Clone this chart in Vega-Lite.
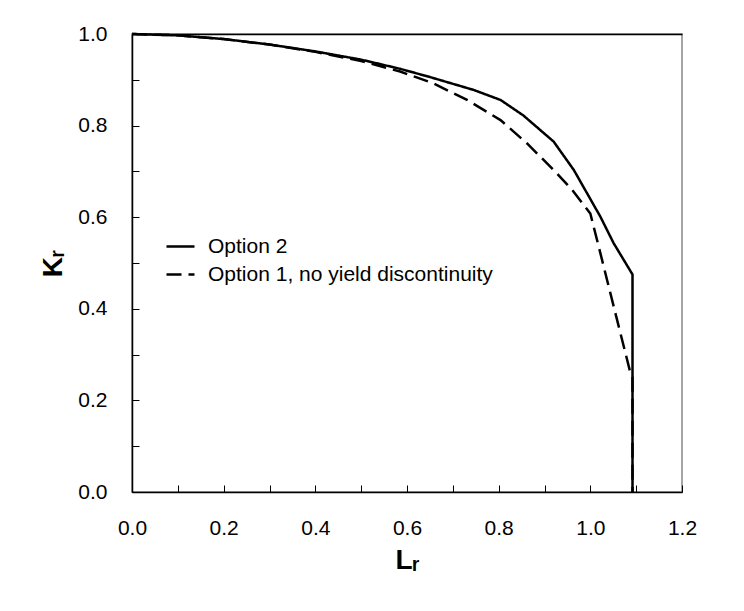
{
  "$schema": "https://vega.github.io/schema/vega-lite/v6.json",
  "width": 550,
  "height": 458,
  "autosize": {"type": "none"},
  "padding": {"left": 132, "top": 34, "right": 62, "bottom": 119},
  "background": "white",
  "config": {
    "view": {"stroke": "#888888", "strokeWidth": 1.5},
    "font": "Liberation Sans",
    "axis": {
      "grid": false,
      "domainColor": "black",
      "domainWidth": 1.5,
      "tickColor": "black",
      "tickWidth": 1,
      "labelFont": "Liberation Sans",
      "labelFontSize": 21,
      "labelColor": "black",
      "titleFont": "Liberation Sans",
      "titleFontSize": 28,
      "titleFontWeight": "bold",
      "titleColor": "black"
    }
  },
  "data": {
    "values": [
      {"series": "Option 2", "i": 0, "x": 0.0, "y": 1.0},
      {"series": "Option 2", "i": 1, "x": 0.1, "y": 0.997},
      {"series": "Option 2", "i": 2, "x": 0.2, "y": 0.989},
      {"series": "Option 2", "i": 3, "x": 0.3, "y": 0.977},
      {"series": "Option 2", "i": 4, "x": 0.4, "y": 0.962},
      {"series": "Option 2", "i": 5, "x": 0.5, "y": 0.944},
      {"series": "Option 2", "i": 6, "x": 0.585, "y": 0.924},
      {"series": "Option 2", "i": 7, "x": 0.65, "y": 0.906},
      {"series": "Option 2", "i": 8, "x": 0.745, "y": 0.878},
      {"series": "Option 2", "i": 9, "x": 0.804, "y": 0.856},
      {"series": "Option 2", "i": 10, "x": 0.854, "y": 0.822},
      {"series": "Option 2", "i": 11, "x": 0.92, "y": 0.765},
      {"series": "Option 2", "i": 12, "x": 0.964, "y": 0.703},
      {"series": "Option 2", "i": 13, "x": 1.022, "y": 0.601},
      {"series": "Option 2", "i": 14, "x": 1.051, "y": 0.543},
      {"series": "Option 2", "i": 15, "x": 1.092, "y": 0.475},
      {"series": "Option 2", "i": 16, "x": 1.092, "y": 0.0},
      {"series": "Option 1, no yield discontinuity", "i": 0, "x": 0.0, "y": 1.0},
      {"series": "Option 1, no yield discontinuity", "i": 1, "x": 0.1, "y": 0.997},
      {"series": "Option 1, no yield discontinuity", "i": 2, "x": 0.2, "y": 0.989},
      {"series": "Option 1, no yield discontinuity", "i": 3, "x": 0.3, "y": 0.977},
      {"series": "Option 1, no yield discontinuity", "i": 4, "x": 0.4, "y": 0.961},
      {"series": "Option 1, no yield discontinuity", "i": 5, "x": 0.5, "y": 0.941},
      {"series": "Option 1, no yield discontinuity", "i": 6, "x": 0.585, "y": 0.918},
      {"series": "Option 1, no yield discontinuity", "i": 7, "x": 0.658, "y": 0.892},
      {"series": "Option 1, no yield discontinuity", "i": 8, "x": 0.731, "y": 0.856},
      {"series": "Option 1, no yield discontinuity", "i": 9, "x": 0.804, "y": 0.812},
      {"series": "Option 1, no yield discontinuity", "i": 10, "x": 0.862, "y": 0.761},
      {"series": "Option 1, no yield discontinuity", "i": 11, "x": 0.92, "y": 0.703},
      {"series": "Option 1, no yield discontinuity", "i": 12, "x": 0.96, "y": 0.66},
      {"series": "Option 1, no yield discontinuity", "i": 13, "x": 1.0, "y": 0.608},
      {"series": "Option 1, no yield discontinuity", "i": 14, "x": 1.022, "y": 0.521},
      {"series": "Option 1, no yield discontinuity", "i": 15, "x": 1.051, "y": 0.405},
      {"series": "Option 1, no yield discontinuity", "i": 16, "x": 1.087, "y": 0.262},
      {"series": "Option 1, no yield discontinuity", "i": 17, "x": 1.092, "y": 0.25},
      {"series": "Option 1, no yield discontinuity", "i": 18, "x": 1.092, "y": 0.0}
    ]
  },
  "layer": [
    {
      "mark": {"type": "line", "color": "black", "strokeWidth": 2.5, "clip": false},
      "encoding": {
        "x": {
          "field": "x", "type": "quantitative",
          "scale": {"domain": [0, 1.2], "nice": false, "zero": false},
          "axis": {
            "title": "Lᵣ",
            "values": [0, 0.1, 0.2, 0.3, 0.4, 0.5, 0.6, 0.7, 0.8, 0.9, 1.0, 1.1, 1.2],
            "labelExpr": "round(datum.value*10)%2==0 ? format(datum.value, '.1f') : ''",
            "tickSize": -7,
            "labelPadding": 32,
            "titlePadding": 8,
            "labelFlush": false
          }
        },
        "y": {
          "field": "y", "type": "quantitative",
          "scale": {"domain": [0, 1.0], "nice": false, "zero": false},
          "axis": {
            "title": "Kᵣ",
            "values": [0, 0.1, 0.2, 0.3, 0.4, 0.5, 0.6, 0.7, 0.8, 0.9, 1.0],
            "labelExpr": "round(datum.value*10)%2==0 ? format(datum.value, '.1f') : ''",
            "tickSize": -7,
            "labelPadding": 32,
            "titlePadding": 10,
            "labelFlush": false
          }
        },
        "order": {"field": "i", "type": "quantitative"},
        "strokeDash": {
          "field": "series", "type": "nominal",
          "scale": {"domain": ["Option 2", "Option 1, no yield discontinuity"], "range": [[1, 0], [15, 7]]},
          "legend": {
            "title": null,
            "orient": "none",
            "legendX": 33,
            "legendY": 197,
            "symbolType": "stroke",
            "symbolSize": 784,
            "symbolStrokeWidth": 2.5,
            "symbolStrokeColor": "black",
            "labelFont": "Liberation Sans",
            "labelFontSize": 21,
            "labelColor": "black",
            "labelOffset": 12,
            "rowPadding": 2,
            "labelLimit": 500,
            "encode": {
              "symbols": {
                "update": {
                  "strokeDash": {"signal": "datum.value == 'Option 2' ? [1, 0] : [9, 5]"}
                }
              }
            }
          }
        }
      }
    },
    {
      "mark": {"type": "line", "opacity": 0},
      "encoding": {
        "x": {
          "field": "x", "type": "quantitative",
          "axis": {"orient": "top", "labels": false, "ticks": false, "title": null, "domainColor": "black"}
        }
      }
    }
  ],
  "resolve": {"axis": {"x": "independent"}}
}
